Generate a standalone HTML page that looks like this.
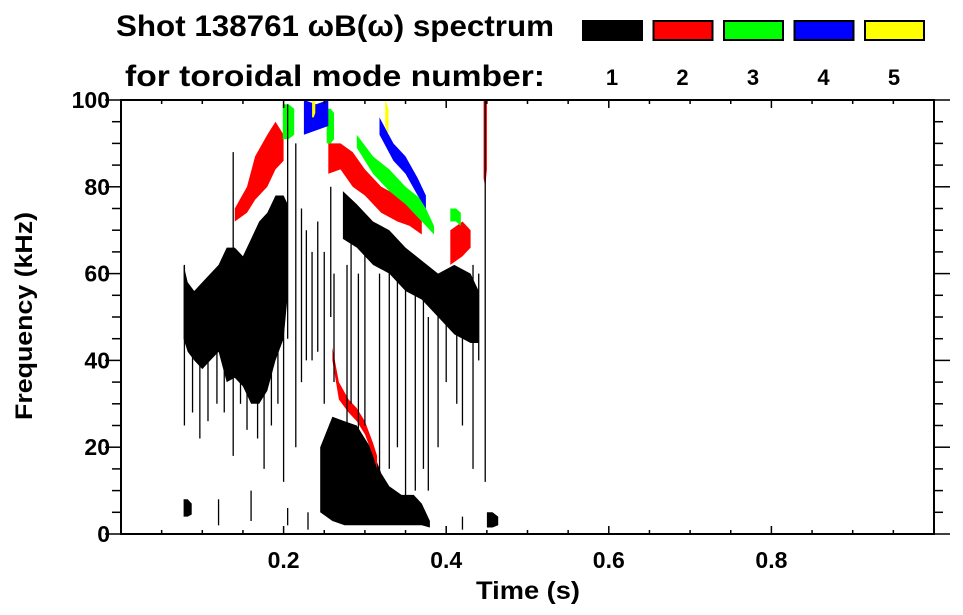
<!DOCTYPE html>
<html><head><meta charset="utf-8"><style>
html,body{margin:0;padding:0;background:#fff;}
svg{display:block;font-family:"Liberation Sans",Arial,sans-serif;font-weight:bold;}
</style></head><body>
<svg id="chart" width="963" height="615" viewBox="0 0 963 615">
<g id="marks"></g>
<g id="axes"></g>
<text x="116" y="36" font-size="30" textLength="438" lengthAdjust="spacingAndGlyphs">Shot 138761 ωB(ω) spectrum</text>
<text x="125" y="86" font-size="30" textLength="420" lengthAdjust="spacingAndGlyphs">for toroidal mode number:</text>
<g id="legend"></g>
<text transform="translate(32,316) rotate(-90)" text-anchor="middle" font-size="24" textLength="208" lengthAdjust="spacingAndGlyphs">Frequency (kHz)</text>
<text x="528" y="599" text-anchor="middle" font-size="25" textLength="104" lengthAdjust="spacingAndGlyphs">Time (s)</text>
</svg>
<script>
// ---- data ----
const modeNames = ["1","2","3","4","5"];
const modeColors = ["#000000","#ff0000","#00ff00","#0000ff","#ffff00"];
const xTicks = [0.2,0.4,0.6,0.8];
const yTicks = [0,20,40,60,80,100];
// bands: mode index, times, upper freq, lower freq
const bandMode = [0,0,0,0,0,1,1,1,1,1,2,2,2,2,3,3,4,4];
const bandT = [
 [0.077,0.082,0.09,0.1,0.11,0.12,0.13,0.14,0.15,0.16,0.17,0.18,0.19,0.2,0.205],
 [0.273,0.29,0.31,0.33,0.35,0.37,0.39,0.41,0.43,0.44],
 [0.245,0.26,0.275,0.29,0.3,0.31,0.32,0.33,0.345,0.36,0.37,0.38],
 [0.077,0.082,0.087],
 [0.45,0.457,0.464],
 [0.14,0.155,0.165,0.18,0.19,0.2],
 [0.255,0.27,0.285,0.3,0.32,0.34,0.355,0.37],
 [0.405,0.42,0.43],
 [0.446,0.448,0.45],
 [0.26,0.268,0.28,0.29,0.3,0.31,0.315],
 [0.199,0.206,0.213],
 [0.253,0.258,0.262],
 [0.29,0.31,0.33,0.35,0.37,0.385],
 [0.405,0.412,0.418],
 [0.225,0.24,0.255],
 [0.318,0.335,0.35,0.365,0.375],
 [0.235,0.237,0.239],
 [0.325,0.327,0.329]
];
const bandHi = [
 [62,58,56,58,60,62,66,66,64,68,72,74,78,78,76],
 [79,76,72,70,66,63,60,62,60,56],
 [20,27,26,25,22,19,14,11,9,9,7,3],
 [8,8,7],
 [5,5,4],
 [75,80,87,92,95,92],
 [90,90,88,84,80,78,76,72],
 [70,72,70],
 [100,100,100],
 [43,35,31,29,26,21,18],
 [99,99,98],
 [98,98,97],
 [92,87,84,80,77,71],
 [75,75,74],
 [100,99,100],
 [96,90,87,82,78],
 [100,100,100],
 [100,99,98]
];
const bandLo = [
 [45,42,40,38,40,42,35,36,34,30,30,33,40,45,55],
 [68,66,62,60,56,54,50,46,44,44],
 [5,3,2,2,2,2,2,2,2,2,2,1.5],
 [4,4,4.5],
 [1.5,1.5,2],
 [72,74,77,80,84,86],
 [83,84,80,78,74,72,71,69],
 [62,64,66],
 [82,80,84],
 [40,31,28,26,23,18,15],
 [91,91,92],
 [90,90,91],
 [89,83,79,76,72,69],
 [72,72,71],
 [92,93,94],
 [92,86,83,78,75],
 [96,96,97],
 [94,93,92]
];
// black streaks
const streakT  = [0.078,0.088,0.097,0.107,0.118,0.127,0.138,0.147,0.155,0.168,0.176,0.185,0.193,0.2,0.205,0.215,0.222,0.228,0.235,0.242,0.25,0.258,0.262,0.278,0.283,0.292,0.3,0.318,0.33,0.34,0.35,0.362,0.372,0.378,0.39,0.4,0.413,0.42,0.433,0.44,0.448,0.12,0.16,0.205,0.23,0.42];
const streakLo = [25,28,22,26,30,28,18,30,24,22,15,25,30,12,45,20,35,40,40,42,30,50,35,5,30,10,25,10,15,20,3,10,15,10,20,35,30,25,15,40,12,2,3,2,1,1];
const streakHi = [62,50,45,50,60,55,88,55,60,70,60,70,78,76,99,90,75,70,65,72,65,80,60,62,70,60,70,60,68,60,62,55,60,50,55,50,58,55,62,60,100,8,10,6,5,4];

// ---- axes functions ----
const X0=121, X1=934, Y0=534, Y1=100;
const xs = t => X0 + (X1-X0)*t;
const ys = f => Y0 - (Y0-Y1)*f/100;
const NS="http://www.w3.org/2000/svg";
function mk(tag, attrs, parent){const e=document.createElementNS(NS,tag);for(const k in attrs)e.setAttribute(k,attrs[k]);parent.appendChild(e);return e;}

const marks=document.getElementById('marks');
for(let b=0;b<bandT.length;b++){
  const T=bandT[b],H=bandHi[b],L=bandLo[b];
  let pts=[];
  for(let i=0;i<T.length;i++)pts.push(xs(T[i]).toFixed(1)+","+ys(H[i]).toFixed(1));
  for(let i=T.length-1;i>=0;i--)pts.push(xs(T[i]).toFixed(1)+","+ys(L[i]).toFixed(1));
  const p=mk('polygon',{points:pts.join(' '),fill:modeColors[bandMode[b]]},marks);
  
  
}
for(let i=0;i<streakT.length;i++){
  const l=mk('line',{x1:xs(streakT[i]),x2:xs(streakT[i]),y1:ys(streakLo[i]),y2:ys(streakHi[i]),stroke:'#000','stroke-width':1.3},marks);
  
  
}

const axes=document.getElementById('axes');
const fr=mk('rect',{x:X0,y:Y1,width:X1-X0,height:Y0-Y1,fill:'none',stroke:'#000','stroke-width':2},axes);


for(let k=1;k<20;k++){
  const t=k*0.05, major=(k%4===0), len=major?8:4;
  mk('line',{x1:xs(t),x2:xs(t),y1:Y0,y2:Y0-len,stroke:'#000','stroke-width':1.5},axes);
  mk('line',{x1:xs(t),x2:xs(t),y1:Y1,y2:Y1+len,stroke:'#000','stroke-width':1.5},axes);
}
for(let k=0;k<=20;k++){
  const f=k*5, major=(k%4===0), len=major?16:9;
  mk('line',{x1:X0-len,x2:X0,y1:ys(f),y2:ys(f),stroke:'#000','stroke-width':1.5},axes);
  mk('line',{x1:X1,x2:X1+len,y1:ys(f),y2:ys(f),stroke:'#000','stroke-width':1.5},axes);
}
for(const t of xTicks){
  const tx=mk('text',{x:xs(t),y:568,'text-anchor':'middle','font-size':23},axes);
  tx.textContent=t.toFixed(1);
  
  
}
for(const f of yTicks){
  const ty=mk('text',{x:110,y:ys(f)+8,'text-anchor':'end','font-size':23},axes);
  ty.textContent=String(f);
  
  
}
const leg=document.getElementById('legend');
for(let i=0;i<modeNames.length;i++){
  const x=583+i*70.5;
  const r=mk('rect',{x:x,y:21,width:59,height:19,fill:modeColors[i],stroke:'#000','stroke-width':2},leg);
  
  
  const tl=mk('text',{x:x+29,y:85,'text-anchor':'middle','font-size':22},leg);
  tl.textContent=modeNames[i];
  
  
}
</script>
</body></html>
